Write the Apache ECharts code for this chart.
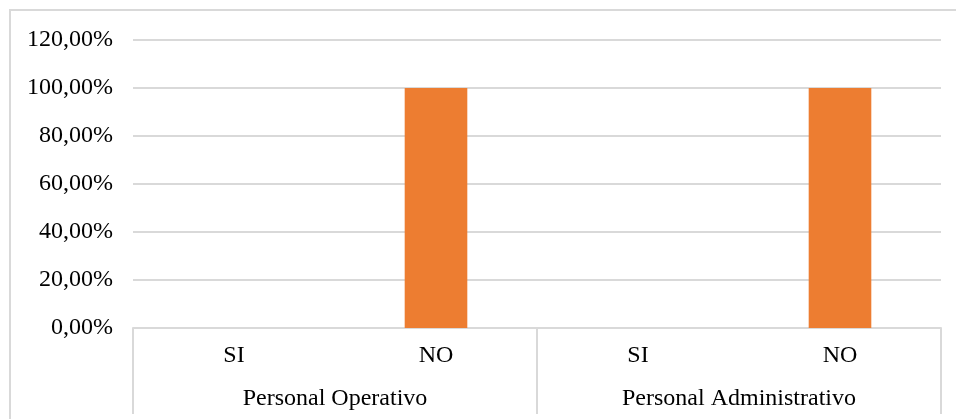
<!DOCTYPE html>
<html>
<head>
<meta charset="utf-8">
<script src="https://cdn.jsdelivr.net/npm/echarts@6/dist/echarts.min.js"></script>
<style>
html,body{margin:0;padding:0;background:#fff;}
#chart{width:956px;height:419px;}
</style>
</head>
<body>
<div id="chart"></div>
<script>
var categories = ['SI', 'NO', 'SI', 'NO'];
var groups = ['Personal Operativo', 'Personal Administrativo'];
var values = [0, 1, 0, 1];
var yTicks = [0, 0.2, 0.4, 0.6, 0.8, 1.0, 1.2];

var font = 'Liberation Serif, Times New Roman, serif';
var gridColor = '#d9d9d9';
var chart = echarts.init(document.getElementById('chart'));
chart.setOption({
  animation: false,
  backgroundColor: '#fff',
  graphic: [{
    type: 'rect',
    shape: { x: 10, y: 10, width: 1000, height: 500 },
    style: { fill: 'none', stroke: gridColor, lineWidth: 2 },
    silent: true
  }],
  grid: { left: 133, right: 15, top: 40, bottom: 91 },
  xAxis: [{
    type: 'category',
    data: categories,
    position: 'bottom',
    axisLine: { show: true, lineStyle: { color: gridColor, width: 2 } },
    axisTick: { show: false },
    axisLabel: { color: '#000', fontFamily: font, fontSize: 24, margin: 16 }
  }, {
    type: 'category',
    data: groups,
    position: 'bottom',
    axisLine: { show: false },
    axisTick: { show: true, length: 86, interval: 0, alignWithLabel: false, lineStyle: { color: gridColor, width: 2 } },
    axisLabel: { color: '#000', fontFamily: font, fontSize: 24, margin: 59, interval: 0 }
  }],
  yAxis: {
    type: 'value',
    min: yTicks[0],
    max: yTicks[yTicks.length - 1],
    interval: 0.2,
    axisLine: { show: false },
    axisTick: { show: false },
    splitLine: { lineStyle: { color: gridColor, width: 2 } },
    axisLabel: {
      color: '#000', fontFamily: font, fontSize: 24, margin: 20,
      formatter: function (v) { return (v * 100).toFixed(2).replace('.', ',') + '%'; }
    }
  },
  series: [{
    type: 'bar',
    xAxisIndex: 0,
    data: values,
    barWidth: '31%',
    itemStyle: { color: '#ED7D31' }
  }]
});
</script>
</body>
</html>
